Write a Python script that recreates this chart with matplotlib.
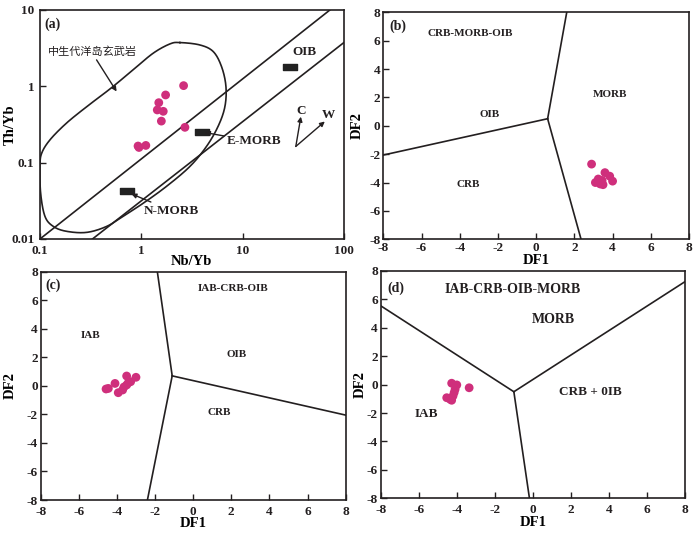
import matplotlib
matplotlib.use("Agg")
import matplotlib.pyplot as plt
from matplotlib.path import Path
from matplotlib.ticker import FixedLocator, FixedFormatter, NullLocator
import numpy as np

plt.rcParams['font.family'] = ['Liberation Serif', 'Noto Sans CJK SC']
plt.rcParams['font.weight'] = 'bold'
plt.rcParams['axes.labelweight'] = 'bold'
plt.rcParams['axes.unicode_minus'] = False

DOT = '#CF2F7C'
INK = '#231f20'

# ---- panel (a): Nb/Yb vs Th/Yb ----
a_nb = [2.62, 1.74, 1.49, 1.44, 1.65, 1.58, 2.70, 0.93, 0.95, 1.11]
a_th = [1.02, 0.77, 0.61, 0.49, 0.47, 0.35, 0.29, 0.165, 0.158, 0.168]

# reference compositions
ref_names = ['OIB', 'E-MORB', 'N-MORB']
ref_nb = [29.3, 3.94, 0.73]
ref_th = [1.81, 0.254, 0.043]

# mantle array boundaries
upper_nb = [0.1, 73.0]
upper_th = [0.01, 10.0]
lower_nb = [0.33, 100.0]
lower_th = [0.01, 3.73]

# Mesozoic ocean island basalt field (closed outline)
env_nb = [2.41, 3.79, 5.14, 6.21, 6.86, 6.70, 5.75, 4.41, 3.02, 1.78, 1.05, 0.66,
          0.455, 0.289, 0.183, 0.1355, 0.112, 0.1015, 0.100, 0.104, 0.126, 0.183,
          0.289, 0.39, 0.53, 0.83, 1.31, 1.92]
env_th = [3.74, 3.48, 2.85, 1.81, 1.00, 0.54, 0.30, 0.163, 0.089, 0.049, 0.0295, 0.0198,
          0.0146, 0.0122, 0.0126, 0.0146, 0.0198, 0.040, 0.089, 0.133, 0.20, 0.33,
          0.54, 0.73, 1.00, 1.64, 2.71, 3.59]

# ---- panel (b) ----
b_df1 = [2.9, 3.6, 3.85, 4.0, 3.1, 3.25, 3.35, 3.5, 3.45, 3.3]
b_df2 = [-2.7, -3.3, -3.55, -3.9, -4.0, -3.75, -4.1, -4.15, -3.85, -3.9]
b_center = (0.6, 0.5)
b_ends = [(1.6, 8.0), (-8.0, -2.06), (2.35, -8.0)]
b_labels = [('CRB-MORB-OIB', -3.46, 6.52), ('OIB', -2.42, 0.81),
            ('MORB', 3.87, 2.22), ('CRB', -3.55, -4.12)]

# ---- panel (c) ----
c_df1 = [-4.45, -4.57, -4.10, -3.49, -3.93, -3.70, -3.49, -3.28, -3.0, -3.63, -3.40]
c_df2 = [-0.18, -0.22, 0.17, 0.69, -0.48, -0.29, 0.06, 0.29, 0.6, -0.08, 0.22]
c_center = (-1.1, 0.7)
c_ends = [(-1.88, 8.0), (8.0, -2.05), (-2.4, -8.0)]
c_labels = [('IAB-CRB-OIB', 2.11, 6.83), ('IAB', -5.38, 3.56),
            ('OIB', 2.28, 2.21), ('CRB', 1.37, -1.88)]

# ---- panel (d) ----
d_df1 = [-3.35, -4.27, -4.0, -4.09, -4.14, -4.2, -4.53, -4.35, -4.27]
d_df2 = [-0.22, 0.1, -0.02, -0.33, -0.56, -0.8, -0.92, -1.03, -1.1]
d_center = (-1.0, -0.5)
d_ends = [(-8.0, 5.55), (8.0, 7.25), (-0.18, -8.0)]
d_labels = [('IAB-CRB-OIB-MORB', -1.06, 6.73, 10), ('MORB', 1.08, 4.62, 10),
            ('CRB + 0IB', 3.0, -0.54, 9.5), ('IAB', -5.62, -2.09, 9.5)]

df_ticks = [-8, -6, -4, -2, 0, 2, 4, 6, 8]


def closed_spline(xs, ys, n=24):
    # Catmull-Rom through the outline points, closed
    P = np.column_stack([xs, ys])
    N = len(P)
    t = np.linspace(0, 1, n, endpoint=False)[:, None]
    segs = []
    for i in range(N):
        p0, p1, p2, p3 = P[(i - 1) % N], P[i], P[(i + 1) % N], P[(i + 2) % N]
        segs.append(0.5 * (2 * p1 + (-p0 + p2) * t + (2 * p0 - 5 * p1 + 4 * p2 - p3) * t ** 2
                           + (-p0 + 3 * p1 - 3 * p2 + p3) * t ** 3))
    segs.append(P[:1])
    return np.vstack(segs)


def style_axes(ax, xlab, ylab, xl_pos, yl_pos, xpad, ypad=2):
    for s in ax.spines.values():
        s.set_linewidth(1.2)
        s.set_color(INK)
    ax.tick_params(direction='in', length=4, width=1.0, labelsize=9.5,
                   top=False, right=False, colors=INK)
    ax.tick_params(axis='x', pad=xpad)
    ax.tick_params(axis='y', pad=ypad)
    for lab in ax.get_xticklabels() + ax.get_yticklabels():
        lab.set_fontweight('bold')
    ax.set_xlabel(xlab, fontsize=10.5)
    ax.set_ylabel(ylab, fontsize=10.5)
    ax.xaxis.set_label_coords(0.5, xl_pos, transform=ax.transAxes)
    ax.yaxis.set_label_coords(yl_pos, 0.5, transform=ax.transAxes)
    ax.xaxis.label.set_va('center')
    ax.yaxis.label.set_va('center')


def df_panel(ax, xs, ys, center, ends, labels, tag, tagpos, xl_pos, yl_pos, xpad):
    for ex, ey in ends:
        ax.plot([center[0], ex], [center[1], ey], color=INK, lw=1.2)
    for lab in labels:
        fs = lab[3] if len(lab) > 3 else 8
        ax.text(lab[1], lab[2], lab[0], ha='center', va='center', fontsize=fs,
                fontweight='bold', color=INK)
    ax.scatter(xs, ys, s=40, color=DOT, edgecolors='none', zorder=3)
    ax.set_xlim(-8, 8)
    ax.set_ylim(-8, 8)
    ax.set_xticks(df_ticks)
    ax.set_yticks(df_ticks)
    ax.text(tagpos[0], tagpos[1], tag, transform=ax.transAxes, ha='left', va='center',
            fontsize=10, fontweight='bold', color=INK)
    style_axes(ax, 'DF1', 'DF2', xl_pos, yl_pos, xpad)


fig = plt.figure(figsize=(7, 5.38), dpi=100)
ax_a = fig.add_axes([0.0571, 0.5558, 0.434, 0.4257])
ax_b = fig.add_axes([0.5476, 0.5552, 0.4367, 0.4219])
ax_c = fig.add_axes([0.0581, 0.0706, 0.4357, 0.4244])
ax_d = fig.add_axes([0.5439, 0.0738, 0.4347, 0.4225])

# panel (a)
ax = ax_a
ax.set_xscale('log')
ax.set_yscale('log')
ax.set_xlim(0.1, 100)
ax.set_ylim(0.01, 10)
ax.plot(upper_nb, upper_th, color=INK, lw=1.2)
ax.plot(lower_nb, lower_th, color=INK, lw=1.2)
env = closed_spline(np.log10(env_nb), np.log10(env_th))
ax.plot(10 ** env[:, 0], 10 ** env[:, 1], color=INK, lw=1.2)

rect = Path([(-1, -0.45), (1, -0.45), (1, 0.45), (-1, 0.45), (-1, -0.45)],
            [Path.MOVETO, Path.LINETO, Path.LINETO, Path.LINETO, Path.CLOSEPOLY])
ax.plot(ref_nb, ref_th, ls='none', marker=rect, markersize=9.5, color='#222222', zorder=3)
ax.scatter(a_nb, a_th, s=40, color=DOT, edgecolors='none', zorder=4)

arrow = dict(arrowstyle='-|>', color=INK, lw=1.0, mutation_scale=7, shrinkA=0, shrinkB=0)
ax.text(40.6, 2.85, 'OIB', ha='center', va='center', fontsize=9.5, fontweight='bold', color=INK)
ax.annotate('E-MORB', xy=(4.25, 0.248), xytext=(7.0, 0.19), ha='left', va='center',
            fontsize=9.5, fontweight='bold', color=INK, arrowprops=arrow)
ax.annotate('N-MORB', xy=(0.80, 0.039), xytext=(1.07, 0.0234), ha='left', va='center',
            fontsize=9.5, fontweight='bold', color=INK, arrowprops=arrow)
ax.text(0.121, 2.85, '中生代洋岛玄武岩', ha='left', va='center', fontsize=8,
        fontweight='normal', color=INK)
ax.annotate('', xy=(0.571, 0.855), xytext=(0.362, 2.22), arrowprops=arrow)
ax.annotate('', xy=(37.7, 0.40), xytext=(33.6, 0.163), arrowprops=arrow)
ax.annotate('', xy=(65.0, 0.346), xytext=(33.6, 0.163), arrowprops=arrow)
ax.text(38.2, 0.47, 'C', ha='center', va='center', fontsize=9.5, fontweight='bold', color=INK)
ax.text(71.0, 0.42, 'W', ha='center', va='center', fontsize=9.5, fontweight='bold', color=INK)

ax.xaxis.set_major_locator(FixedLocator([0.1, 1, 10, 100]))
ax.xaxis.set_major_formatter(FixedFormatter(['0.1', '1', '10', '100']))
ax.yaxis.set_major_locator(FixedLocator([0.01, 0.1, 1, 10]))
ax.yaxis.set_major_formatter(FixedFormatter(['0.01', '0.1', '1', '10']))
ax.xaxis.set_minor_locator(NullLocator())
ax.yaxis.set_minor_locator(NullLocator())
ax.text(0.016, 0.939, '(a)', transform=ax.transAxes, ha='left', va='center',
        fontsize=10, fontweight='bold', color=INK)
style_axes(ax, 'Nb/Yb', 'Th/Yb', -0.1, -0.099, 4, 4)

df_panel(ax_b, b_df1, b_df2, b_center, b_ends, b_labels, '(b)', (0.02, 0.94), -0.094, -0.086, 2)
df_panel(ax_c, c_df1, c_df2, c_center, c_ends, c_labels, '(c)', (0.014, 0.939), -0.102, -0.10, 4)
df_panel(ax_d, d_df1, d_df2, d_center, d_ends, d_labels, '(d)', (0.022, 0.924), -0.107, -0.068, 4)

fig.savefig('out.png', dpi=100)
